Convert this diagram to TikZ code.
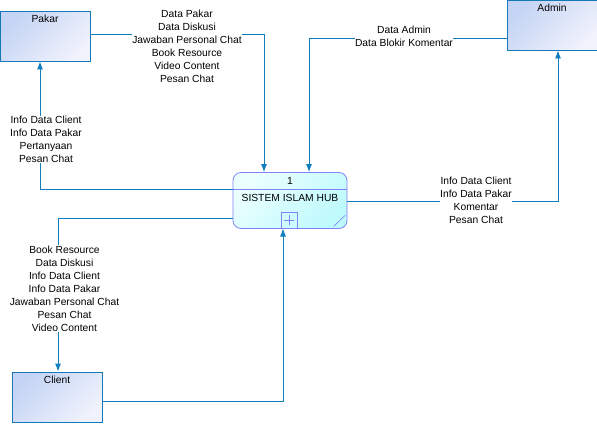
\documentclass[tikz,border=0pt]{standalone}
\usepackage{fontspec}
\setmainfont{Liberation Sans}
\usepackage{tikz}
\usetikzlibrary{arrows.meta}

\definecolor{flowblue}{RGB}{16,125,190}
\definecolor{entline}{RGB}{20,120,185}
\definecolor{entA}{RGB}{196,212,244}
\definecolor{entB}{RGB}{240,242,252}
\definecolor{procline}{RGB}{130,130,250}
\definecolor{procA}{RGB}{236,255,255}
\definecolor{procB}{RGB}{190,250,252}

\tikzset{
  entity/.style={draw=entline, line width=0.9pt, minimum width=90pt, minimum height=50pt,
    left color=entA, right color=entB, shading angle=45, inner sep=0pt},
  flow/.style={draw=flowblue, line width=0.9pt, -{Latex[length=8pt,width=6pt]}},
  flowtext/.style={fill=white, inner sep=0.5pt, align=center,
    font=\fontsize{10.3}{13}\selectfont},
}

\begin{document}
\begin{tikzpicture}[x=1pt, y=-1pt, font=\fontsize{10.3}{13}\selectfont]
        \useasboundingbox (0,0) rectangle (597,423);

        \node[entity] (pakar) at (45,36) {};
        \node (pakarname) at (45,19) {Pakar};

        \node[entity] (admin) at (552,25) {};
        \node (adminname) at (552,8) {Admin};

        \node[entity] (client) at (57,397) {};
        \node (clientname) at (57,380) {Client};

        \node[draw=procline, line width=0.8pt, rounded corners=8pt, minimum width=114pt,
              minimum height=56pt, left color=procA, right color=procB, shading angle=45] (proc) at (290,200.5) {};
        \draw[procline, line width=0.8pt] (proc.west |- 0,189.5) -- (proc.east |- 0,189.5);
        \draw[procline, line width=0.6pt] (333.5,226.5) -- (345.5,215);
        \node[draw=procline, line width=0.8pt, minimum size=16pt, inner sep=0pt, anchor=south] (procplus) at (289,228.5) {};
        \draw[procline, line width=0.7pt] ([xshift=-5pt]procplus.center) -- ([xshift=5pt]procplus.center)
              ([yshift=-5pt]procplus.center) -- ([yshift=5pt]procplus.center);
        \node (procnum) at (290,181) {1};
        \node (procname) at (290,197.5) {SISTEM ISLAM HUB};

        \draw[flow] (pakar.east |- 0,34) -| (proc.north -| 264,0);
        \draw[flow] (proc.west |- 0,189) -| (pakar.south -| 40,0);
        \draw[flow] (admin.west |- 0,38) -| (proc.north -| 309,0);
        \draw[flow] (proc.east |- 0,201) -| (admin.south -| 558,0);
        \draw[flow] (proc.west |- 0,218) -| (client.north -| 58,0);
        \draw[flow] (client.east |- 0,401) -| (procplus.south -| 283,0);

        \node[flowtext] (pakarout) at (187,46.5) {Data Pakar\\Data Diskusi\\Jawaban Personal Chat\\Book Resource\\Video Content\\Pesan Chat};
        \node[flowtext] (pakarin) at (46,139.5) {Info Data Client\\Info Data Pakar\\Pertanyaan\\Pesan Chat};
        \node[flowtext] (adminout) at (404,36) {Data Admin\\Data Blokir Komentar};
        \node[flowtext] (adminin) at (476,200) {Info Data Client\\Info Data Pakar\\Komentar\\Pesan Chat};
        \node[flowtext] (clientin) at (64.5,288.5) {Book Resource\\Data Diskusi\\Info Data Client\\Info Data Pakar\\Jawaban Personal Chat\\Pesan Chat\\Video Content};
    \end{tikzpicture}
\end{document}
